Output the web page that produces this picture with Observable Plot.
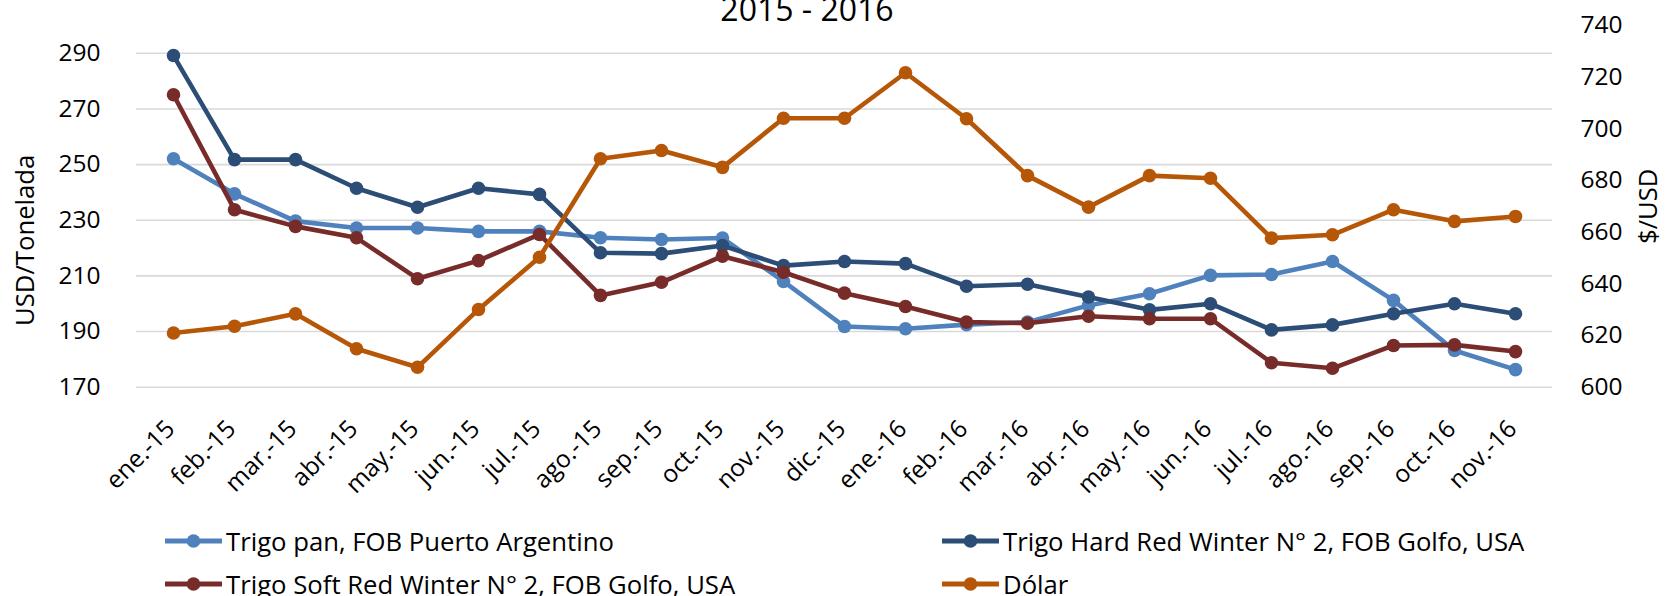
<!DOCTYPE html>
<html>
<head>
<meta charset="utf-8">
<script src="https://cdn.jsdelivr.net/npm/d3@7"></script>
<script src="https://cdn.jsdelivr.net/npm/@observablehq/plot@0.6"></script>
<style>
  html, body { margin: 0; padding: 0; background: #fff; }
  #wrap { position: relative; width: 1665px; height: 596px; overflow: hidden; font-family: "Open Sans", sans-serif; color: #000; }
  #title { position: absolute; left: 0; width: 1614px; top: -7px; text-align: center; font-size: 32px; line-height: 32px; }
  #chart { position: absolute; left: 0; top: 0; }
  .leg { position: absolute; display: flex; align-items: center; font-size: 25.7px; white-space: nowrap; }
  .leg svg { margin-right: 4px; }
</style>
</head>
<body>
<div id="wrap">
  <div id="chart"></div>
  <div id="title">2015 - 2016</div>
  <div id="legend"></div>
</div>
<script>
// ---- Data ----
const months = ["ene.-15","feb.-15","mar.-15","abr.-15","may.-15","jun.-15","jul.-15","ago.-15","sep.-15","oct.-15","nov.-15","dic.-15",
                "ene.-16","feb.-16","mar.-16","abr.-16","may.-16","jun.-16","jul.-16","ago.-16","sep.-16","oct.-16","nov.-16"];
const trigoPan = [252.1, 239.5, 229.7, 227.2, 227.2, 226.0, 226.0, 223.7, 223.1, 223.6, 208.0, 191.8,
                  191.0, 192.5, 193.4, 199.4, 203.6, 210.2, 210.5, 215.2, 201.2, 183.2, 176.3];
const trigoHRW = [289.2, 251.8, 251.8, 241.5, 234.7, 241.5, 239.3, 218.3, 218.0, 220.9, 213.7, 215.2,
                  214.4, 206.3, 207.0, 202.4, 197.8, 200.0, 190.6, 192.4, 196.4, 200.0, 196.4];
const trigoSRW = [275.1, 233.8, 227.8, 223.7, 209.0, 215.5, 224.9, 203.0, 207.7, 217.1, 211.3, 203.8,
                  199.0, 193.4, 193.0, 195.5, 194.6, 194.6, 178.8, 176.8, 185.0, 185.2, 182.8];
const dolar    = [621.0, 623.6, 628.4, 614.9, 607.7, 630.1, 650.3, 688.4, 691.6, 685.1, 704.1, 704.1,
                  721.7, 703.9, 681.9, 669.7, 681.9, 680.9, 657.7, 659.0, 668.7, 664.2, 666.1];
const leftTicks = [170, 190, 210, 230, 250, 270, 290];
const rightTicks = [600, 620, 640, 660, 680, 700, 720, 740];
const seriesNames = ["Trigo pan, FOB Puerto Argentino", "Trigo Hard Red Winter N° 2, FOB Golfo, USA",
                     "Trigo Soft Red Winter N° 2, FOB Golfo, USA", "Dólar"];
const seriesColors = ["#4F81BD", "#2C4D75", "#772C2A", "#B65708"];
const leftTitle = "USD/Tonelada";
const rightTitle = "$/USD";

// ---- Dual-axis mapping (secondary 600–740 onto primary 170–300) ----
const L0 = 170, L1 = 300, R0 = 600, R1 = 740;
const toLeft = v => L0 + (v - R0) * (L1 - L0) / (R1 - R0);
const fromLeft = v => R0 + (v - L0) * (R1 - R0) / (L1 - L0);

const rows = months.map((m, i) => ({
  month: m,
  pan: trigoPan[i],
  hrw: trigoHRW[i],
  srw: trigoSRW[i],
  dolar: toLeft(dolar[i])
}));
const keys = ["pan", "hrw", "srw", "dolar"];

const marks = [
  Plot.gridY(leftTicks, {stroke: "#d9d9d9", strokeOpacity: 1, strokeWidth: 1.6}),
  Plot.axisY(leftTicks, {anchor: "left", tickSize: 0, tickPadding: 36, fontSize: 24.5, label: null}),
  Plot.axisY(rightTicks.map(toLeft), {anchor: "right", tickSize: 0, tickPadding: 28, fontSize: 24.5,
    tickFormat: d => String(Math.round(fromLeft(d))), label: null}),
  Plot.axisX({tickRotate: -45, tickSize: 0, tickPadding: 37.7, dx: -3, fontSize: 24.5, label: null}),
  Plot.text([leftTitle], {text: d => d, frameAnchor: "left", rotate: -90, dx: -111, dy: 34,
    fontSize: 25.7, textAnchor: "middle", lineAnchor: "middle", fill: "#000"}),
  Plot.text([rightTitle], {text: d => d, frameAnchor: "right", rotate: -90, dx: 96, dy: 0,
    fontSize: 25.5, textAnchor: "middle", lineAnchor: "middle", fill: "#000"})
];
keys.forEach((k, i) => {
  marks.push(Plot.line(rows, {x: "month", y: k, stroke: seriesColors[i], strokeWidth: 4.6, strokeLinejoin: "round"}));
  marks.push(Plot.dot(rows, {x: "month", y: k, r: 6.8, fill: seriesColors[i], stroke: "none"}));
});

const chart = Plot.plot({
  width: 1665,
  height: 500,
  marginTop: 25,
  marginBottom: 113.3,
  marginLeft: 136,
  marginRight: 113,
  style: {fontFamily: "'Open Sans', sans-serif", fontSize: "24.5px", color: "#000", background: "transparent", overflow: "visible"},
  x: {type: "point", domain: months, padding: 0.5},
  y: {domain: [L0, L1]},
  marks
});
document.getElementById("chart").appendChild(chart);

// ---- Legend ----
const legend = document.getElementById("legend");
const legPos = [[165, 541], [942, 541], [165, 584], [942, 584]];
seriesNames.forEach((name, i) => {
  const div = document.createElement("div");
  div.className = "leg";
  div.style.left = legPos[i][0] + "px";
  div.style.top = (legPos[i][1] - 18) + "px";
  div.style.height = "36px";
  div.innerHTML = `<svg width="57" height="16"><line x1="0" y1="8" x2="57" y2="8" stroke="${seriesColors[i]}" stroke-width="5"/><circle cx="28.5" cy="8" r="6.8" fill="${seriesColors[i]}"/></svg>`;
  const span = document.createElement("span");
  span.textContent = name;
  div.appendChild(span);
  legend.appendChild(div);
});
</script>
</body>
</html>
